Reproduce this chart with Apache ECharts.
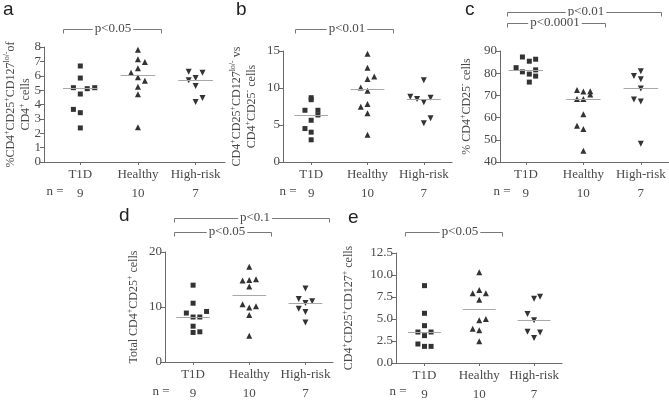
<!DOCTYPE html>
<html><head><meta charset="utf-8">
<script src="https://cdn.jsdelivr.net/npm/echarts@6/dist/echarts.min.js"></script>
<style>html,body{margin:0;padding:0;background:#fff}#c{width:669px;height:400px}</style>
</head><body><div id="c"></div>
<script>
// ---------- DATA ----------
const categories = ['T1D', 'Healthy', 'High-risk'];

// panel a: values and horizontal jitter (in category units)
const aT1D      = [6.68, 5.84, 5.17, 5.10, 5.17, 4.73, 3.66, 3.43, 2.37];
const aT1DJit   = [0, 0, -0.12, 0.12, 0.25, 0, -0.12, 0, 0];
const aHealthy  = [7.81, 7.14, 6.96, 6.52, 6.21, 5.89, 5.66, 5.24, 4.71, 2.41];
const aHealthyJit = [0, 0, 0.12, 0, -0.12, 0, 0.12, 0, 0, 0];
const aRisk     = [6.28, 6.21, 5.84, 5.68, 5.29, 4.45, 4.17];
const aRiskJit  = [-0.12, 0.12, 0, -0.12, 0, 0.12, 0];

// panel b
const bT1D      = [8.69, 8.42, 6.99, 6.99, 6.36, 5.64, 4.52, 4.03, 3.0];
const bT1DJit   = [0, 0, -0.11, 0.12, 0.12, 0, -0.11, 0, 0];
const bHealthy  = [14.64, 12.72, 11.2, 11.55, 10.08, 9.63, 7.48, 7.84, 6.58, 3.67];
const bHealthyJit = [0, 0, 0, 0.12, -0.12, 0, -0.12, 0, 0, 0];
const bRisk     = [11.06, 8.82, 8.51, 8.69, 8.06, 5.91, 5.24];
const bRiskJit  = [0, -0.24, -0.12, 0.12, 0, 0.12, 0];

// panel c
const cT1D      = [87.3, 85.4, 86.3, 82.5, 80.6, 79.6, 81.5, 78.7, 76.0];
const cT1DJit   = [-0.06, 0.06, 0.17, -0.17, -0.06, 0.06, 0.17, 0.17, 0.06];
const cHealthy  = [72.4, 71.8, 71.9, 70.4, 68.4, 68.4, 61.5, 56.3, 54.9, 45.1];
const cHealthyJit = [-0.11, 0, 0.12, 0.12, -0.11, 0, 0, -0.11, 0, 0];
const cRisk     = [80.9, 78.7, 77.3, 73.1, 68.2, 67.3, 48.2];
const cRiskJit  = [0, -0.12, 0, 0, -0.12, 0, 0];

// panel d
const dT1D      = [13.97, 10.69, 8.9, 9.19, 8.18, 8.18, 6.51, 5.37, 5.49];
const dT1DJit   = [0, 0, -0.12, 0.24, 0, 0.12, 0, 0, 0.12];
const dHealthy  = [17.31, 14.8, 14.93, 15.04, 13.73, 10.51, 9.91, 10.15, 8.54, 4.78];
const dHealthyJit = [0, -0.12, 0, 0.12, 0, -0.12, 0, 0.12, 0, 0];
const dRisk     = [13.37, 11.46, 10.75, 11.04, 9.67, 9.07, 7.16];
const dRiskJit  = [0, -0.12, 0, 0.12, -0.12, 0, 0];

// panel e
const eT1D      = [8.79, 5.65, 4.24, 3.52, 3.52, 3.11, 2.16, 1.89, 1.89];
const eT1DJit   = [0, 0, 0, -0.12, 0.12, 0, -0.12, 0, 0.12];
const eHealthy  = [10.3, 7.92, 8.3, 7.92, 7.2, 4.85, 5.0, 3.9, 3.71, 2.46];
const eHealthyJit = [0, -0.12, 0, 0.12, 0, 0, 0.12, -0.12, 0, 0];
const eRisk     = [7.31, 7.54, 5.57, 4.85, 3.56, 3.48, 2.84];
const eRiskJit  = [0, 0.11, -0.12, 0, -0.12, 0.11, 0];

// y-axis tick settings
const yTicks = {
  a: {min: 0, max: 8, interval: 1},
  b: {min: 0, max: 15, interval: 5},
  c: {min: 40, max: 90, interval: 10},
  d: {min: 0, max: 20, interval: 10},
  e: {min: 0, max: 12.5, interval: 2.5}
};

// ---------- STYLE / LAYOUT ----------
const SERIF = 'Liberation Serif';
const SANS = 'Liberation Sans';
const TXT = '#4a4a4a';
const AX = '#6a6a6a';
const MK = '#333333';

const panels = [
  {key: 'a', groups: [[aT1D, aT1DJit], [aHealthy, aHealthyJit], [aRisk, aRiskJit]],
   grid: {left: 44, top: 47, width: 181, height: 115}, xr: [-0.63, 2.51],
   name: '%CD4{s|+}CD25{s|+}CD127{s|lo/-}of\nCD4{s|+} cells', nameGap: 11, fmt: v => String(v)},
  {key: 'b', groups: [[bT1D, bT1DJit], [bHealthy, bHealthyJit], [bRisk, bRiskJit]],
   grid: {left: 283, top: 51, width: 169, height: 111}, xr: [-0.5, 2.5],
   name: 'CD4{s|+}CD25{s|+}CD127{s|lo/-} vs\nCD4{s|+}CD25{s|-} cells', nameGap: 24, fmt: v => String(v)},
  {key: 'c', groups: [[cT1D, cT1DJit], [cHealthy, cHealthyJit], [cRisk, cRiskJit]],
   grid: {left: 500, top: 51, width: 169, height: 111}, xr: [-0.45, 2.49],
   name: '% CD4{s|+}CD25{s|-} cells', nameGap: 26, fmt: v => String(v)},
  {key: 'd', groups: [[dT1D, dT1DJit], [dHealthy, dHealthyJit], [dRisk, dRiskJit]],
   grid: {left: 165, top: 252, width: 168, height: 110}, xr: [-0.5, 2.49],
   name: 'Total CD4{s|+}CD25{s|+} cells', nameGap: 24, fmt: v => String(v)},
  {key: 'e', groups: [[eT1D, eT1DJit], [eHealthy, eHealthyJit], [eRisk, eRiskJit]],
   grid: {left: 396, top: 253, width: 166, height: 110}, xr: [-0.52, 2.51],
   name: 'CD4{s|+}CD25{s|+}CD127{s|+} cells', nameGap: 40, fmt: v => v.toFixed(1)}
];

const symbols = [
  {symbol: 'rect', symbolSize: 5, symbolRotate: 0},
  {symbol: 'triangle', symbolSize: 6, symbolRotate: 0},
  {symbol: 'triangle', symbolSize: 6, symbolRotate: 180}
];

function median(arr) {
  const s = arr.slice().sort((x, y) => x - y);
  const m = Math.floor(s.length / 2);
  return s.length % 2 ? s[m] : (s[m - 1] + s[m]) / 2;
}

const grids = [], xAxes = [], yAxes = [], series = [];
panels.forEach((p, pi) => {
  grids.push(Object.assign({outerBoundsMode: 'none', containLabel: false}, p.grid));
  const counts = p.groups.map(g => g[0].length);
  xAxes.push({
    gridIndex: pi, type: 'value', min: p.xr[0], max: p.xr[1],
    axisLine: {show: true, onZero: false, lineStyle: {color: AX, width: 1}},
    axisTick: {show: true, customValues: [0, 1, 2], length: 3, lineStyle: {color: AX}},
    axisLabel: {customValues: [0, 1, 2], margin: 3, color: TXT, fontFamily: SERIF, fontSize: 13, lineHeight: 19,
      formatter: v => categories[Math.round(v)] + '\n' + counts[Math.round(v)]},
    splitLine: {show: false}
  });
  const yt = yTicks[p.key];
  yAxes.push({
    gridIndex: pi, type: 'value', min: yt.min, max: yt.max, interval: yt.interval,
    axisLine: {show: true, onZero: false, lineStyle: {color: AX, width: 1}},
    axisTick: {show: true, length: 4, lineStyle: {color: AX}},
    axisLabel: {margin: 3, color: TXT, fontFamily: SERIF, fontSize: 13, formatter: p.fmt},
    splitLine: {show: false},
    name: p.name, nameLocation: 'middle', nameRotate: 90, nameGap: p.nameGap,
    nameMoveOverlap: false,
    nameTextStyle: {color: TXT, fontFamily: SERIF, fontSize: 12, lineHeight: 15,
      rich: {s: {fontFamily: SERIF, fontSize: 8, lineHeight: 8, verticalAlign: 'top', color: TXT}}}
  });
  p.groups.forEach((g, gi) => {
    const vals = g[0], jit = g[1];
    const med = median(vals);
    series.push(Object.assign({
      type: 'scatter', xAxisIndex: pi, yAxisIndex: pi,
      data: vals.map((v, k) => [gi + jit[k], v]),
      itemStyle: {color: MK, opacity: 1},
      silent: true, animation: false,
      markLine: {
        silent: true, animation: false, symbol: ['none', 'none'],
        label: {show: false},
        lineStyle: {color: '#a8a8a8', width: 1, type: 'solid'},
        data: [[{coord: [gi - 0.3, med]}, {coord: [gi + 0.3, med]}]]
      }
    }, symbols[gi]));
  });
});

// ---------- ANNOTATIONS ----------
const graphic = [];
function letter(t, x, y) {
  graphic.push({type: 'text', left: x, top: y, style: {text: t, fontFamily: SANS, fontSize: 19, fill: '#222'}});
}
letter('a', 3, 0); letter('b', 236, 0); letter('c', 465, 0); letter('d', 119, 206); letter('e', 348, 208);

function nLabel(x, y) {
  graphic.push({type: 'text', x: x, y: y, style: {text: 'n =', fontFamily: SERIF, fontSize: 13, fill: TXT, align: 'center', verticalAlign: 'middle'}});
}
nLabel(55, 192); nLabel(288, 192); nLabel(502, 192); nLabel(161, 392); nLabel(398, 392);

function bracket(x1, x2, y, txt, tx) {
  graphic.push({type: 'polyline', shape: {points: [[x1, y + 4], [x1, y], [x2, y], [x2, y + 4]]},
    style: {stroke: '#777', lineWidth: 1, fill: null}, z: 10});
  graphic.push({type: 'text', x: tx, y: y - 1, z: 11,
    style: {text: txt, fontFamily: SERIF, fontSize: 13, fill: TXT, align: 'center', verticalAlign: 'middle',
      backgroundColor: '#fff', padding: [0, 2]}});
}
bracket(63.5, 161.5, 29.5, 'p<0.05', 113);
bracket(295.5, 393.5, 29.5, 'p<0.01', 347);
bracket(507.5, 661.5, 12.5, 'p<0.01', 586);
bracket(507.5, 605.5, 23.5, 'p<0.0001', 555);
bracket(174.5, 329.5, 218.5, 'p<0.1', 255);
bracket(174.5, 271.5, 232.5, 'p<0.05', 227);
bracket(405.5, 502.5, 232.5, 'p<0.05', 460);

const chart = echarts.init(document.getElementById('c'), null, {renderer: 'canvas'});
chart.setOption({
  animation: false,
  backgroundColor: '#fff',
  grid: grids, xAxis: xAxes, yAxis: yAxes, series: series, graphic: graphic
});
</script></body></html>
